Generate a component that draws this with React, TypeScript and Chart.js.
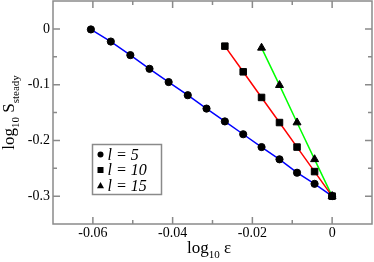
import React, { useEffect, useRef } from "react";
import { Chart, registerables } from "chart.js";

Chart.register(...registerables);

const x5 = [-0.0605, -0.0555, -0.0506, -0.0458, -0.041, -0.0362, -0.0315, -0.0269, -0.0223, -0.0177, -0.0132, -0.0088, -0.0044, 0];
const y5 = [-0.001, -0.0227, -0.0471, -0.0716, -0.0954, -0.119, -0.143, -0.166, -0.189, -0.212, -0.234, -0.258, -0.278, -0.3];
const x10 = [-0.0269, -0.0223, -0.0177, -0.0132, -0.0088, -0.0044, 0];
const y10 = [-0.031, -0.077, -0.123, -0.168, -0.212, -0.256, -0.3];
const x15 = [-0.0177, -0.0132, -0.0088, -0.0044, 0];
const y15 = [-0.034, -0.101, -0.168, -0.234, -0.3];

const seriesLabels = ["l = 5", "l = 10", "l = 15"];
const xTicks = [-0.06, -0.04, -0.02, 0];
const xMinorTicks = [-0.07, -0.05, -0.03, -0.01, 0.01];
const yTicks = [-0.3, -0.2, -0.1, 0];
const yMinorTicks = [-0.35, -0.25, -0.15, -0.05, 0.05];

const SERIF = '"Liberation Serif", "Times New Roman", serif';
const FRAME = "#8a8a8a";

const pts = (xs: number[], ys: number[]) => xs.map((x, i) => ({ x, y: ys[i] }));

const framePlugin = {
  id: "frameTicks",
  beforeDatasetsDraw(chart: any) {
    const { ctx, chartArea: a, scales } = chart;
    const xs = scales.x;
    const ys = scales.y;
    ctx.save();
    ctx.strokeStyle = FRAME;
    ctx.lineWidth = 1.5;
    const tick = (vals: number[], len: number) => {
      vals.forEach((v) => {
        const px = xs.getPixelForValue(v);
        if (px < a.left + 1 || px > a.right - 1) return;
        ctx.beginPath();
        ctx.moveTo(px, a.bottom);
        ctx.lineTo(px, a.bottom - len);
        ctx.moveTo(px, a.top);
        ctx.lineTo(px, a.top + len);
        ctx.stroke();
      });
    };
    const ytick = (vals: number[], len: number) => {
      vals.forEach((v) => {
        const py = ys.getPixelForValue(v);
        if (py < a.top + 1 || py > a.bottom - 1) return;
        ctx.beginPath();
        ctx.moveTo(a.left, py);
        ctx.lineTo(a.left + len, py);
        ctx.moveTo(a.right, py);
        ctx.lineTo(a.right - len, py);
        ctx.stroke();
      });
    };
    tick(xTicks, 7);
    tick(xMinorTicks, 4);
    ytick(yTicks, 7);
    ytick(yMinorTicks, 4);
    ctx.strokeRect(a.left, a.top, a.right - a.left, a.bottom - a.top);
    ctx.restore();
  },
};

const drawMarker = (ctx: CanvasRenderingContext2D, kind: number, x: number, y: number) => {
  ctx.beginPath();
  if (kind === 0) {
    ctx.arc(x, y, 3, 0, Math.PI * 2);
  } else if (kind === 1) {
    ctx.rect(x - 3, y - 3, 6, 6);
  } else {
    ctx.moveTo(x, y - 3.5);
    ctx.lineTo(x + 3.5, y + 2.8);
    ctx.lineTo(x - 3.5, y + 2.8);
    ctx.closePath();
  }
  ctx.fill();
};

const overlayPlugin = {
  id: "overlay",
  afterDraw(chart: any) {
    const { ctx, chartArea: a } = chart;
    ctx.save();
    // legend box
    const bx = 92.5, by = 144.5, bw = 69, bh = 50;
    ctx.fillStyle = "#fff";
    ctx.fillRect(bx, by, bw, bh);
    ctx.strokeStyle = FRAME;
    ctx.lineWidth = 1.5;
    ctx.strokeRect(bx, by, bw, bh);
    const rows = [154.5, 170, 185.5];
    ctx.fillStyle = "#000";
    rows.forEach((ry, i) => {
      drawMarker(ctx, i, 100.5, ry);
      ctx.font = "italic 16px " + SERIF;
      ctx.textBaseline = "middle";
      ctx.textAlign = "left";
      ctx.fillText(seriesLabels[i], 107.5, ry + 1);
    });

    // x title
    const big = "17px " + SERIF;
    const small = "11px " + SERIF;
    ctx.textBaseline = "alphabetic";
    ctx.textAlign = "left";
    ctx.font = big;
    const wLog = ctx.measureText("log").width;
    const wEps = ctx.measureText(" \u03b5").width;
    ctx.font = small;
    const w10 = ctx.measureText("10").width;
    const total = wLog + w10 + wEps;
    const x0 = 209 - total / 2;
    const base = 253;
    ctx.font = big;
    ctx.fillText("log", x0, base);
    ctx.font = small;
    ctx.fillText("10", x0 + wLog, base + 5);
    ctx.font = big;
    ctx.fillText(" \u03b5", x0 + wLog + w10, base);

    // y title
    ctx.save();
    ctx.translate(14, (a.top + a.bottom) / 2);
    ctx.rotate(-Math.PI / 2);
    ctx.font = big;
    const wS = ctx.measureText(" S").width;
    ctx.font = small;
    const wSt = ctx.measureText("steady").width;
    const totY = wLog + w10 + wS + wSt;
    let yx = -totY / 2;
    ctx.font = big;
    ctx.fillText("log", yx, 0);
    yx += wLog;
    ctx.font = small;
    ctx.fillText("10", yx, 5);
    yx += w10;
    ctx.font = big;
    ctx.fillText(" S", yx, 0);
    yx += wS;
    ctx.font = small;
    ctx.fillText("steady", yx, 5);
    ctx.restore();

    ctx.restore();
  },
};

export default function App() {
  const ref = useRef<HTMLCanvasElement | null>(null);
  useEffect(() => {
    if (!ref.current) return;
    const lineDs = (xs: number[], ys: number[], color: string) => ({
      data: pts(xs, ys),
      showLine: true,
      borderColor: color,
      borderWidth: 1.5,
      pointRadius: 0,
      order: 2,
    });
    const markDs = (xs: number[], ys: number[], style: string, r: number) => ({
      data: pts(xs, ys),
      showLine: false,
      pointStyle: style,
      pointRadius: r,
      backgroundColor: "#000",
      borderColor: "#000",
      borderWidth: 1,
      order: 1,
    });
    const zeroPad = (s: any) => {
      s.paddingTop = 0;
      s.paddingBottom = 0;
      s.paddingLeft = 0;
      s.paddingRight = 0;
    };
    const chart = new Chart(ref.current, {
      type: "scatter",
      data: {
        datasets: [
          markDs(x5, y5, "circle", 3.6),
          markDs(x10, y10, "rect", 4.6),
          markDs(x15, y15, "triangle", 4.6),
          lineDs(x5, y5, "#0000ff"),
          lineDs(x10, y10, "#ff0000"),
          lineDs(x15, y15, "#00ff00"),
        ] as any,
      },
      options: {
        animation: false,
        responsive: false,
        events: [],
        layout: { autoPadding: false, padding: { top: 1, right: 2, left: 0, bottom: 0 } },
        plugins: { legend: { display: false }, tooltip: { enabled: false } },
        scales: {
          x: {
            type: "linear",
            min: -0.07,
            max: 0.01,
            grid: { display: false, drawTicks: false },
            border: { display: false },
            afterBuildTicks: (s: any) => {
              s.ticks = xTicks.map((v) => ({ value: v }));
            },
            afterFit: (s: any) => {
              s.height = 38;
              zeroPad(s);
            },
            ticks: {
              padding: 1,
              color: "#000",
              font: { family: SERIF, size: 14 },
              callback: (v: any) => (v === 0 ? "0" : Number(v).toFixed(2)),
            },
          },
          y: {
            type: "linear",
            min: -0.35,
            max: 0.05,
            grid: { display: false, drawTicks: false },
            border: { display: false },
            afterBuildTicks: (s: any) => {
              s.ticks = yTicks.map((v) => ({ value: v }));
            },
            afterFit: (s: any) => {
              s.width = 53;
              zeroPad(s);
            },
            ticks: {
              padding: 3,
              color: "#000",
              font: { family: SERIF, size: 14 },
              callback: (v: any) => (v === 0 ? "0" : Number(v).toFixed(1)),
            },
          },
        },
      },
      plugins: [framePlugin, overlayPlugin],
    });
    return () => chart.destroy();
  }, []);
  return (
    <div style={{ position: "absolute", left: 0, top: 0, width: 374, height: 262, background: "#fff" }}>
      <canvas ref={ref} width={374} height={262} style={{ width: 374, height: 262, display: "block" }} />
    </div>
  );
}
